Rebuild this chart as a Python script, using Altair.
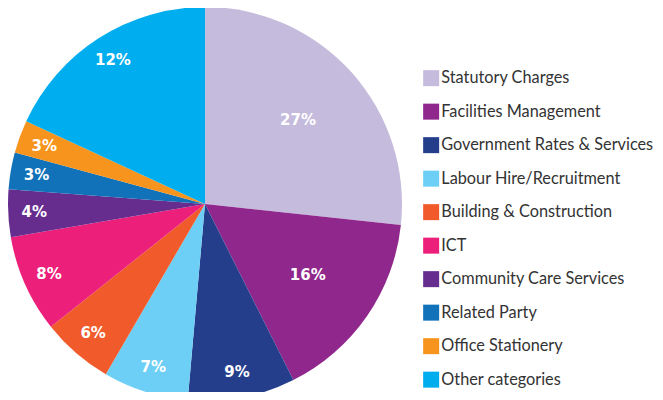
import altair as alt
import pandas as pd

categories = [
    "Statutory Charges",
    "Facilities Management",
    "Government Rates & Services",
    "Labour Hire/Recruitment",
    "Building & Construction",
    "ICT",
    "Community Care Services",
    "Related Party",
    "Office Stationery",
    "Other categories",
]
# slice sizes (degrees / 3.6)
values = [26.7, 15.9, 8.8, 7.0, 5.9, 8.0, 3.9, 3.0, 2.7, 18.1]
# labels printed on the slices
labels = ["27%", "16%", "9%", "7%", "6%", "8%", "4%", "3%", "3%", "12%"]
colors = ["#c5bbdc", "#8f278c", "#253e8c", "#6dcff6", "#f15a2b",
          "#ec1f7a", "#662d8f", "#1172b9", "#f7941d", "#00adee"]

df = pd.DataFrame({
    "category": categories,
    "value": values,
    "label": labels,
    "idx": list(range(len(categories))),
})

CX, CY, R = 197, 196, 197

arcs = alt.Chart(df).mark_arc(radius=R, x=CX, y=CY, stroke=None).encode(
    theta=alt.Theta("value:Q", stack=True, scale=alt.Scale(domain=[0, 100])),
    order=alt.Order("idx:Q", sort="ascending"),
    color=alt.Color(
        "category:N",
        scale=alt.Scale(domain=categories, range=colors),
        sort=categories,
        legend=alt.Legend(
            title=None,
            orient="none",
            legendX=415,
            legendY=62,
            padding=0,
            symbolType="square",
            symbolSize=256,
            symbolStrokeWidth=0,
            symbolOpacity=1,
            labelFontSize=16.3,
            labelFont="Lato",
            labelColor="#333333",
            labelOffset=2,
            rowPadding=16.5,
            labelLimit=300,
        ),
    ),
)

texts = alt.Chart(df).transform_window(
    cum="sum(value)", sort=[alt.SortField("idx", order="ascending")]
).transform_calculate(
    mid="datum.cum - datum.value / 2",
    lr="datum.value > 12 && datum.value < 18 || datum.value > 20 ? 125 : 171",
).mark_text(
    font="DejaVu Sans", fontWeight="bold", fontSize=15, color="white",
    align="center", baseline="middle", x=CX, y=CY,
).encode(
    theta=alt.Theta("mid:Q", scale=alt.Scale(domain=[0, 100])),
    radius=alt.Radius("lr:Q", scale=None),
    text="label:N",
)

chart = alt.layer(arcs, texts).properties(
    width=647, height=384, padding=0, background="white",
    autosize=alt.AutoSizeParams(type="none"),
).configure_view(stroke=None)

chart.save("out.html", embed_options={"renderer": "svg", "actions": False})
